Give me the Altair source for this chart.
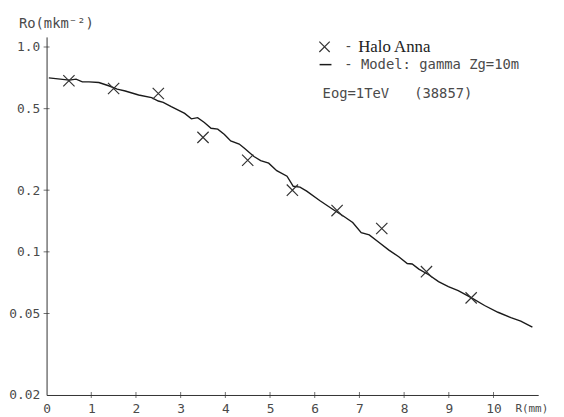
import altair as alt
import pandas as pd

# Data
marker_r = [0.5, 1.5, 2.5, 3.5, 4.5, 5.5, 6.5, 7.5, 8.5, 9.5]
marker_ro = [0.684, 0.627, 0.593, 0.362, 0.280, 0.200, 0.159, 0.130, 0.080, 0.0596]

model_r = [0.05, 0.51, 0.66, 0.80, 0.95, 1.17, 1.39, 1.58, 1.76, 2.06, 2.35, 2.50, 2.61,
           2.79, 3.09, 3.24, 3.38, 3.53, 3.68, 3.83, 3.98, 4.12, 4.31, 4.42, 4.64, 4.79,
           4.97, 5.15, 5.38, 5.52, 5.67, 5.82, 6.11, 6.41, 6.63, 6.85, 7.04, 7.22, 7.44,
           7.66, 7.88, 8.07, 8.18, 8.33, 8.55, 8.77, 8.99, 9.21, 9.51, 9.80, 10.10, 10.39,
           10.61, 10.87]
model_ro = [0.707, 0.689, 0.697, 0.676, 0.676, 0.671, 0.647, 0.623, 0.610, 0.583, 0.566,
            0.545, 0.537, 0.511, 0.474, 0.446, 0.452, 0.428, 0.401, 0.397, 0.374, 0.348,
            0.336, 0.321, 0.292, 0.279, 0.271, 0.249, 0.234, 0.209, 0.207, 0.198, 0.178,
            0.161, 0.150, 0.139, 0.124, 0.121, 0.111, 0.102, 0.0946, 0.0877, 0.0872,
            0.0824, 0.0773, 0.0715, 0.0676, 0.0647, 0.0596, 0.0547, 0.0507, 0.0477,
            0.0459, 0.0429]

x_tick_values = [0, 1, 2, 3, 4, 5, 6, 7, 8, 9, 10]
x_tick_marks = [1, 2, 3, 4, 5, 6, 7, 8, 9, 10]
y_tick_values = [0.02, 0.05, 0.1, 0.2, 0.5, 1.0]
y_tick_marks = [0.05, 0.1, 0.2, 0.5, 1.0]

W, H = 497, 362
MONO = "DejaVu Sans Mono"
SERIF = "Liberation Serif"
AX = "#333333"
TXT = "#4a4a4a"
CROSS = "M-1,-1L1,1M-1,1L1,-1"
NB = "\u00a0"

markers = pd.DataFrame({"r": marker_r, "ro": marker_ro})
model = pd.DataFrame({"r": model_r, "ro": model_ro})
xt = pd.DataFrame({"r": x_tick_marks, "ro": [0.02] * len(x_tick_marks)})
yt = pd.DataFrame({"r": [0] * len(y_tick_marks), "ro": y_tick_marks})

xscale = alt.Scale(domain=[0, 11], nice=False, zero=False)
yscale = alt.Scale(type="log", domain=[0.02, 1.12], nice=False)

x_axis = alt.Axis(values=x_tick_values, ticks=False, grid=False, title=None,
                  domainColor=AX, domainWidth=1, labelFont=MONO, labelFontSize=13,
                  labelColor=TXT, labelPadding=8, labelFlush=False)
y_axis = alt.Axis(values=y_tick_values, ticks=False, grid=False, title=None,
                  domainColor=AX, domainWidth=1, labelFont=MONO, labelFontSize=13,
                  labelColor=TXT, labelPadding=7,
                  labelExpr="datum.value >= 1 ? '1.0' : format(datum.value, '~g')")

line = alt.Chart(model).mark_line(color="#1a1a1a", strokeWidth=1.4).encode(
    x=alt.X("r:Q", scale=xscale, axis=x_axis),
    y=alt.Y("ro:Q", scale=yscale, axis=y_axis),
)

pts = alt.Chart(markers).mark_point(shape=CROSS, size=130, filled=False,
                                    color="#333333", strokeWidth=1.2, opacity=1).encode(
    x=alt.X("r:Q", scale=xscale),
    y=alt.Y("ro:Q", scale=yscale),
)

xticks = alt.Chart(xt).mark_tick(orient="vertical", size=6, thickness=1, color=AX).encode(
    x=alt.X("r:Q", scale=xscale),
    y=alt.Y("ro:Q", scale=yscale),
)
yticks = alt.Chart(yt).mark_tick(orient="horizontal", size=6, thickness=1, color=AX).encode(
    x=alt.X("r:Q", scale=xscale),
    y=alt.Y("ro:Q", scale=yscale),
)

def txt(s, x, y, font=MONO, size=14, align="left", baseline="middle", color=TXT):
    return alt.Chart(pd.DataFrame({"t": [s]})).mark_text(
        font=font, fontSize=size, align=align, baseline=baseline, color=color
    ).encode(text="t:N", x=alt.value(x), y=alt.value(y))

ytitle = txt("Ro(mkm\u207b\u00b2)", -28, -9, baseline="alphabetic")
xtitle = txt("R(mm)", 474, 370, size=11, baseline="top")

leg_cross = alt.Chart(pd.DataFrame({"a": [0]})).mark_point(
    shape=CROSS, size=110, filled=False, color="#333333", strokeWidth=1.2, opacity=1
).encode(x=alt.value(281), y=alt.value(10))
leg_dash1 = txt("-", 301, 10)
leg_halo = txt("Halo Anna", 315, 10, font=SERIF, size=17, color="#222222")

leg_line = alt.Chart(pd.DataFrame({"a": [0]})).mark_rule(color="#1a1a1a", strokeWidth=1.5).encode(
    x=alt.value(276), x2=alt.value(288), y=alt.value(28)
)
leg_model = txt("- Model: gamma Zg=10m", 301, 28)
leg_eog = txt("Eog=1TeV" + NB * 3 + "(38857)", 279, 58)

chart = alt.layer(
    line, pts, xticks, yticks, ytitle, xtitle,
    leg_cross, leg_dash1, leg_halo, leg_line, leg_model, leg_eog
).properties(
    width=W, height=H,
    autosize=alt.AutoSizeParams(type="none"),
    padding={"left": 39, "top": 27, "right": 18, "bottom": 20},
    background="white",
).configure_view(strokeWidth=0)

chart.save("out.html", embed_options={"renderer": "svg", "actions": False})
